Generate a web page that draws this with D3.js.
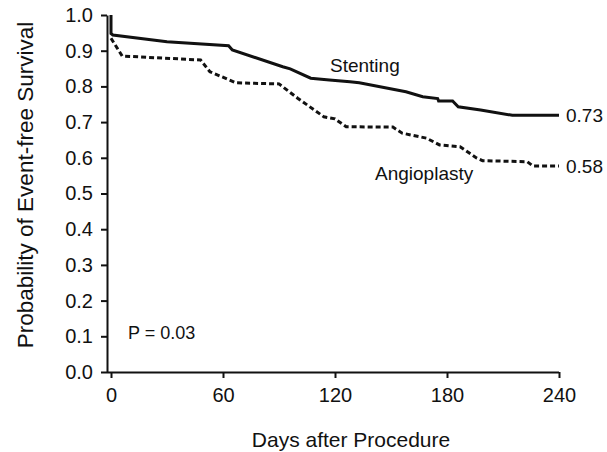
<!DOCTYPE html>
<html>
<head>
<meta charset="utf-8">
<script src="https://cdn.jsdelivr.net/npm/d3@7"></script>
<style>
  body { margin: 0; background: white; }
  text { font-family: "Liberation Sans", Arial, sans-serif; fill: #111; }
</style>
</head>
<body>
<div id="root"></div>
<script>
// Kaplan-Meier style curves: [day, survival]
const stenting = [
  [0, 1.0], [0, 0.948], [1, 0.944], [30, 0.925], [63, 0.914], [65, 0.902],
  [92, 0.855], [96, 0.849], [107, 0.823], [117, 0.818], [128, 0.813],
  [133, 0.810], [158, 0.785], [167, 0.771], [175, 0.766], [175.5, 0.759],
  [183, 0.759], [186, 0.743], [198, 0.734], [215, 0.719], [240, 0.719]
];
const angioplasty = [
  [0, 0.935], [6, 0.885], [48, 0.874], [53, 0.841], [67, 0.81], [90, 0.807],
  [100, 0.767], [114, 0.715], [120, 0.709], [126, 0.687], [151, 0.686],
  [156, 0.669], [169, 0.655], [176, 0.636], [187, 0.631], [196, 0.599],
  [199, 0.592], [223, 0.589], [226, 0.577], [240, 0.577]
];
const xTicks = [0, 60, 120, 180, 240];
const yTicks = [0, 0.1, 0.2, 0.3, 0.4, 0.5, 0.6, 0.7, 0.8, 0.9, 1.0];
const endLabels = [["0.73", 0.719], ["0.58", 0.577]];

const w = 607;
const h = 452;
const axisX = 107;
const axisY = 372;

const svg = d3.select("#root")
  .append("svg")
  .attr("width", w)
  .attr("height", h)
  .style("background", "white");

const xScale = d3.scaleLinear().domain([0, 240]).range([111, 559]);
const yScale = d3.scaleLinear().domain([0, 1]).range([axisY, 15]);

// y axis
const yAxis = d3.axisLeft(yScale)
  .tickValues(yTicks)
  .tickFormat(d3.format(".1f"))
  .tickSize(6)
  .tickSizeOuter(0);
const gy = svg.append("g")
  .attr("transform", `translate(${axisX},0)`)
  .call(yAxis);
gy.selectAll("text").style("font-size", "20px").attr("x", -14);

// x axis
const xAxis = d3.axisBottom(xScale)
  .tickValues(xTicks)
  .tickSize(6)
  .tickSizeOuter(0);
const gx = svg.append("g")
  .attr("transform", `translate(0,${axisY})`)
  .call(xAxis);
gx.select(".domain").attr("d", `M${axisX},0.5H${xScale(240)}`);
gx.selectAll("text").style("font-size", "20px").attr("y", 16);

svg.selectAll(".domain, .tick line")
  .attr("stroke", "#111")
  .attr("stroke-width", 2);

const line = d3.line()
  .x(d => xScale(d[0]))
  .y(d => yScale(d[1]));

svg.append("path")
  .datum(stenting)
  .attr("d", line)
  .attr("fill", "none")
  .attr("stroke", "#111")
  .attr("stroke-width", 3);

svg.append("path")
  .datum(angioplasty)
  .attr("d", line)
  .attr("fill", "none")
  .attr("stroke", "#111")
  .attr("stroke-width", 3)
  .attr("stroke-dasharray", "5,3");

// labels
svg.append("text")
  .attr("x", 330).attr("y", 72)
  .style("font-size", "19px")
  .text("Stenting");
svg.append("text")
  .attr("x", 375).attr("y", 180)
  .style("font-size", "19px")
  .text("Angioplasty");

svg.selectAll(".endlabel")
  .data(endLabels)
  .enter()
  .append("text")
  .attr("class", "endlabel")
  .attr("x", xScale(240) + 7)
  .attr("y", d => yScale(d[1]))
  .attr("dy", "0.35em")
  .style("font-size", "19px")
  .text(d => d[0]);

svg.append("text")
  .attr("x", 128).attr("y", 339)
  .style("font-size", "18px")
  .text("P = 0.03");

svg.append("text")
  .attr("x", 351).attr("y", 447)
  .attr("text-anchor", "middle")
  .style("font-size", "21px")
  .text("Days after Procedure");

svg.append("text")
  .attr("transform", `translate(33,${(15 + 355) / 2}) rotate(-90)`)
  .attr("text-anchor", "middle")
  .style("font-size", "22.5px")
  .text("Probability of Event-free Survival");
</script>
</body>
</html>
